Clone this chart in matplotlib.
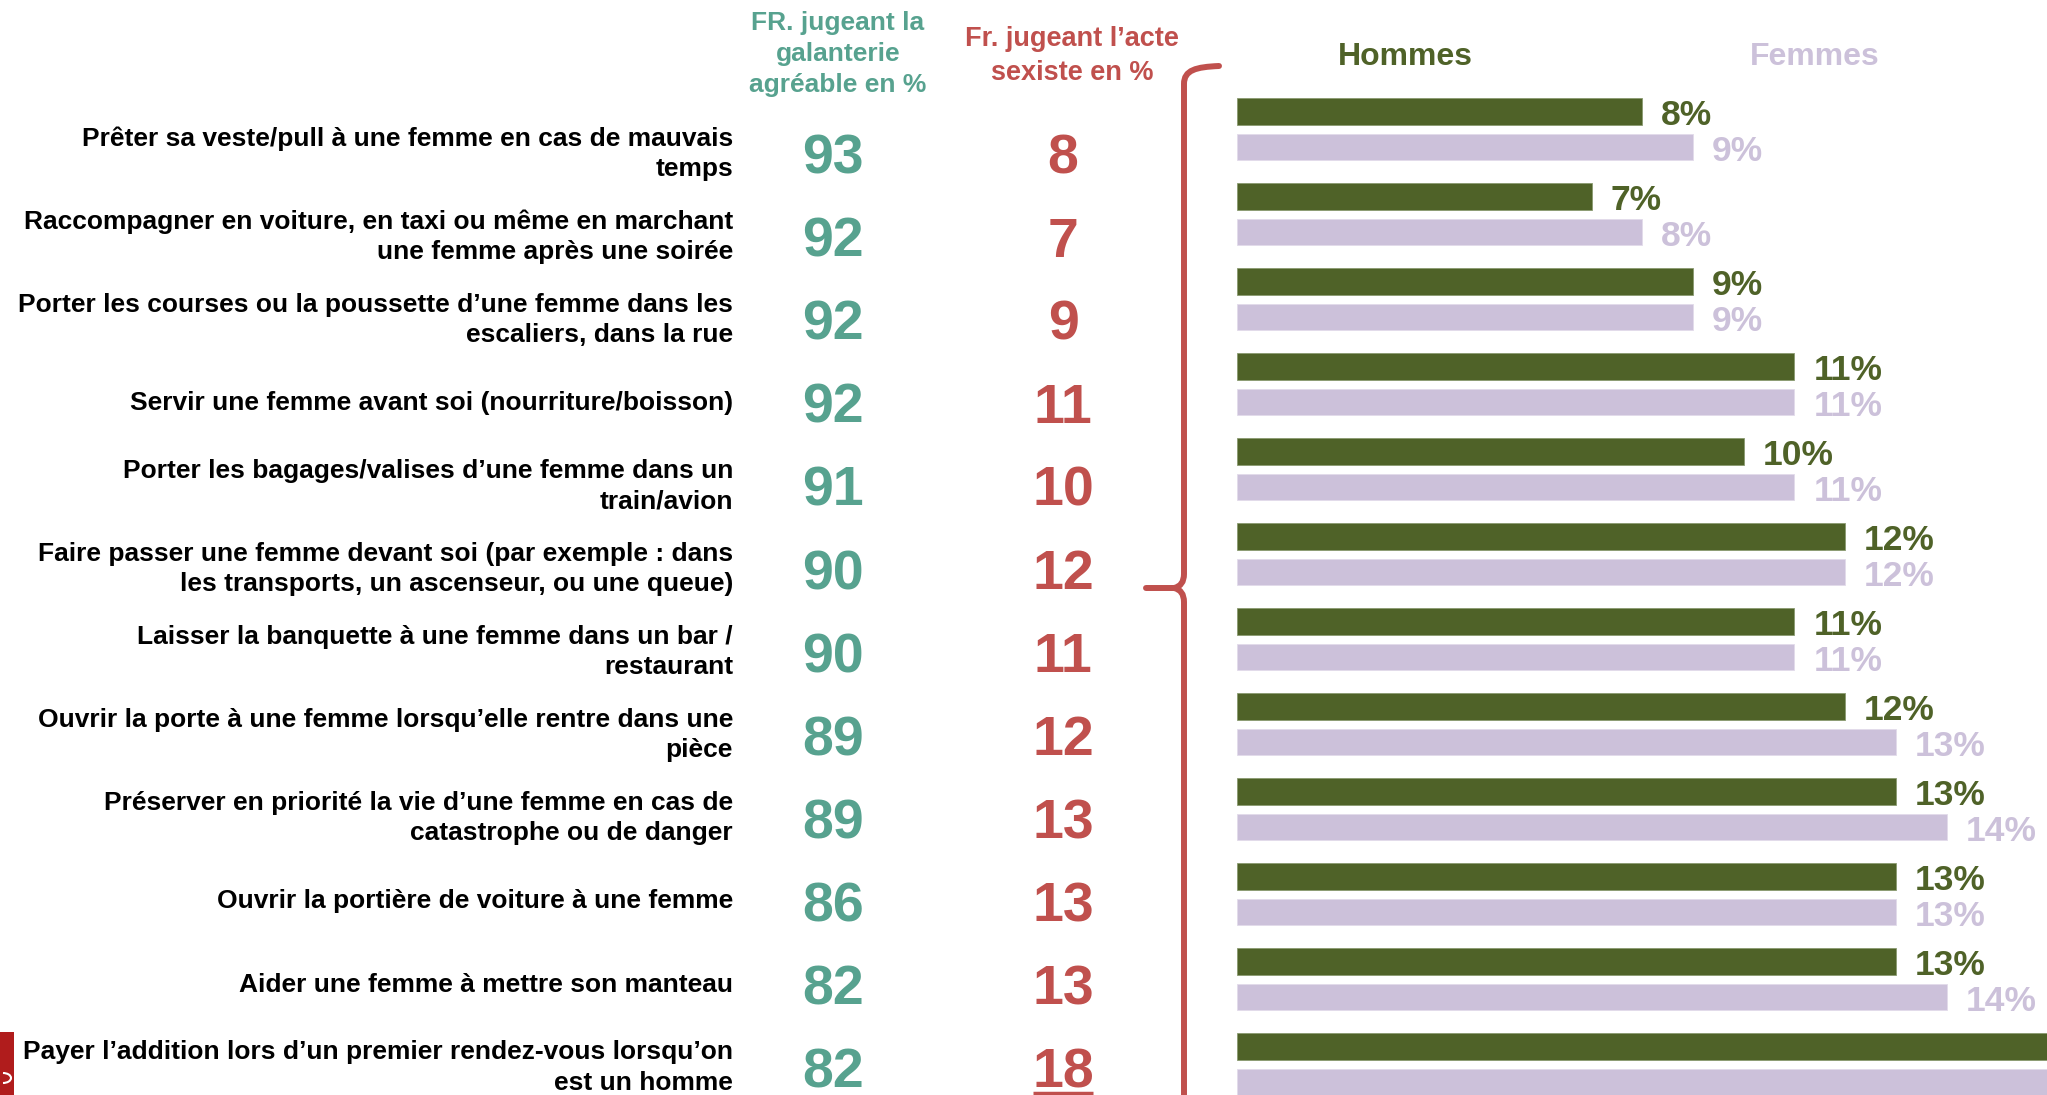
import numpy as np
import matplotlib
matplotlib.use("Agg")
import matplotlib.pyplot as plt
from matplotlib.path import Path
from matplotlib.patches import PathPatch, Rectangle, Arc

plt.rcParams['font.family'] = ['Liberation Sans', 'DejaVu Sans']

labels = [
    "Prêter sa veste/pull à une femme en cas de mauvais\ntemps",
    "Raccompagner en voiture, en taxi ou même en marchant\nune femme après une soirée",
    "Porter les courses ou la poussette d\u2019une femme dans les\nescaliers, dans la rue",
    "Servir une femme avant soi (nourriture/boisson)",
    "Porter les bagages/valises d\u2019une femme dans un\ntrain/avion",
    "Faire passer une femme devant soi (par exemple : dans\nles transports, un ascenseur, ou une queue)",
    "Laisser la banquette à une femme dans un bar /\nrestaurant",
    "Ouvrir la porte à une femme lorsqu\u2019elle rentre dans une\npièce",
    "Préserver en priorité la vie d\u2019une femme en cas de\ncatastrophe ou de danger",
    "Ouvrir la portière de voiture à une femme",
    "Aider une femme à mettre son manteau",
    "Payer l\u2019addition lors d\u2019un premier rendez-vous lorsqu\u2019on\nest un homme",
]
galanterie = [93, 92, 92, 92, 91, 90, 90, 89, 89, 86, 82, 82]
sexiste = [8, 7, 9, 11, 10, 12, 11, 12, 13, 13, 13, 18]
hommes = [8, 7, 9, 11, 10, 12, 11, 12, 13, 13, 13, 17]
femmes = [9, 8, 9, 11, 11, 12, 11, 13, 14, 13, 14, 19]

TEAL = "#57A28F"
RED = "#C0504D"
OLIVE = "#4F6228"
LILAC = "#CCC1DA"

W, H = 2047, 1095
fig = plt.figure(figsize=(W / 100, H / 100), dpi=100, facecolor="white")

# text layer in pixel coordinates
ax0 = fig.add_axes([0, 0, 1, 1])
ax0.set_xlim(0, W)
ax0.set_ylim(H, 0)
ax0.axis("off")

row_y0, row_step = 153.5, 83.1
for i, lab in enumerate(labels):
    y = row_y0 + row_step * i
    ax0.text(733, y, lab, ha="right", va="center", fontsize=19,
             fontweight="bold", color="black", linespacing=1.33, multialignment="right")
    ax0.text(833, y + 6, str(galanterie[i]), ha="center", va="center",
             fontsize=40, fontweight="bold", color=TEAL)
    ax0.text(1063, y + 6, str(sexiste[i]), ha="center", va="center",
             fontsize=40, fontweight="bold", color=RED)

# underline under the last value
ax0.plot([1033, 1093], [1093, 1093], color=RED, lw=2.5, solid_capstyle="butt")

ax0.text(838, 54, "FR. jugeant la\ngalanterie\nagréable en %", ha="center",
         va="center", fontsize=19, fontweight="bold", color=TEAL, linespacing=1.36)
ax0.text(1072, 56, "Fr. jugeant l\u2019acte\nsexiste en %", ha="center",
         va="center", fontsize=19.5, fontweight="bold", color=RED, linespacing=1.4)
ax0.text(1405, 57, "Hommes", ha="center", va="center", fontsize=23,
         fontweight="bold", color=OLIVE)
ax0.text(1815, 57, "Femmes", ha="center", va="center", fontsize=23,
         fontweight="bold", color=LILAC)

# curly brace
verts = [(1219, 66), (1196, 67), (1184, 70), (1184, 84),
         (1184, 574), (1184, 586), (1174, 588),
         (1146, 588),
         (1174, 588), (1184, 590), (1184, 602),
         (1184, 1110)]
codes = [Path.MOVETO, Path.CURVE4, Path.CURVE4, Path.CURVE4,
         Path.LINETO, Path.CURVE3, Path.CURVE3,
         Path.LINETO,
         Path.MOVETO, Path.CURVE3, Path.CURVE3,
         Path.LINETO]
ax0.add_patch(PathPatch(Path(verts, codes), fill=False, edgecolor=RED,
                        lw=4.3, capstyle="round", joinstyle="round"))

# corner tab
ax0.add_patch(Rectangle((0, 1032), 14, 70, color="#B01C1C", lw=0))
ax0.add_patch(Arc((3, 1078), 16, 10, theta1=-90, theta2=90, color="white", lw=1.5))

# bars: x in percent, y in row units
px_per_pct = 50.7
bar_left = 1236.7
row_px = 85.0
green_top = 111.5
ax = fig.add_axes([bar_left / W, 0, 1 - bar_left / W, 1])
xmax = (W - bar_left) / px_per_pct
ax.set_xlim(0, xmax)
ax.set_ylim((H - green_top) / row_px, -green_top / row_px)
ax.axis("off")

rows = np.arange(len(labels))
off = 35.5 / row_px
bh = 26.5 / row_px
ax.barh(rows, hommes, height=bh, color=OLIVE, edgecolor="#8a9a70", lw=0.6)
ax.barh(rows + off, femmes, height=bh, color=LILAC, edgecolor="#e2dbea", lw=0.6)
pad = 19 / px_per_pct
for i in rows:
    # values whose bar runs past the right edge have no visible label
    if hommes[i] + pad < xmax:
        ax.text(hommes[i] + pad, i + 0.05, f"{hommes[i]}%", ha="left", va="center",
                fontsize=25.5, fontweight="bold", color=OLIVE)
    if femmes[i] + pad < xmax:
        ax.text(femmes[i] + pad, i + off + 0.05, f"{femmes[i]}%", ha="left", va="center",
                fontsize=25.5, fontweight="bold", color=LILAC)

fig.savefig("out.png", dpi=100, facecolor="white")
